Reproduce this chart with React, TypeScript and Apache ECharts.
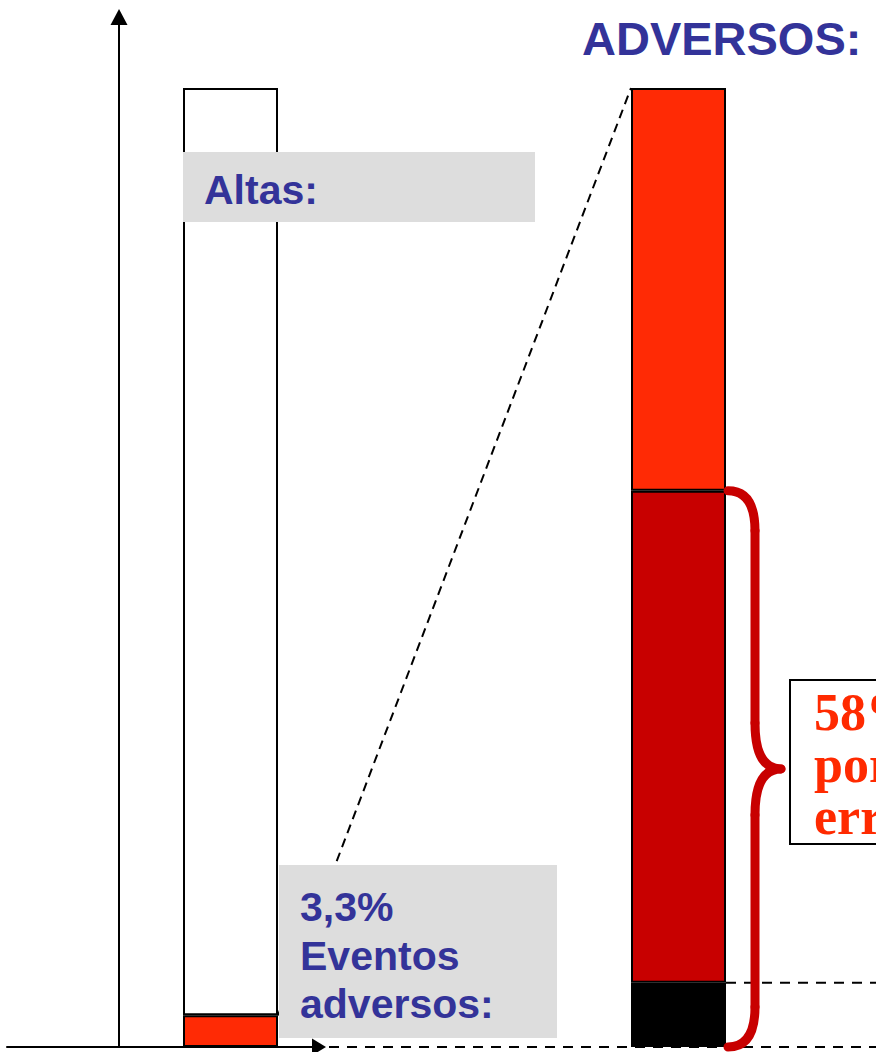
import React, { useEffect, useRef } from "react";
import * as echarts from "echarts";

// Left bar: hospital discharges ("Altas"), split by adverse events (%)
const altasCategories = ["Altas"];
const altasEventosAdversos = [3.3];
const altasSinEventos = [96.7];

// Right bar: breakdown of the adverse events (%)
const adversosCategories = ["Adversos"];
const adversosBase = [6.7];
const adversosPorErrores = [51.3];
const adversosResto = [42];

// Texts
const tituloAdversos = "ADVERSOS:";
const etiquetaAltas = "Altas:";
const etiquetaEventos = ["3,3%", "Eventos", "adversos:"];
const etiquetaErrores = ["58%", "por", "errores"];

// Layout
const WIDTH = 876;
const HEIGHT = 1052;
const AXIS_GRID = { left: 7, top: 17, width: 312, height: 1030 };
const LEFT_GRID = { left: 183, top: 88, width: 95, height: 959 };
const RIGHT_GRID = { left: 631, top: 88, width: 95, height: 959 };

const BLUE = "#333399";
const GRAY = "#DDDDDD";
const ORANGE_RED = "#FF2A05";
const DARK_RED = "#C80000";
const SANS = '"Liberation Sans", Arial, sans-serif';
const SERIF = '"Liberation Serif", "Times New Roman", serif';

const sum = (a: number[]) => a.reduce((s, v) => s + v, 0);

export default function App() {
  const ref = useRef<HTMLDivElement>(null);

  useEffect(() => {
    if (!ref.current) return;
    const chart = echarts.init(ref.current, null, { renderer: "svg" });

    const segment = { borderColor: "#000", borderWidth: 2 };
    const hiddenValue = (gridIndex: number) => ({
      gridIndex,
      type: "value" as const,
      min: 0,
      max: 100,
      show: false,
    });
    const bar = (name: string, axis: number, stack: string, data: number[], color: string) => ({
      type: "bar",
      name,
      xAxisIndex: axis,
      yAxisIndex: axis,
      stack,
      barWidth: "100%",
      data,
      itemStyle: { color, ...segment },
    });

    chart.setOption({
      animation: false,
      grid: [
        { ...AXIS_GRID, containLabel: false },
        { ...LEFT_GRID, containLabel: false },
        { ...RIGHT_GRID, containLabel: false },
      ],
      xAxis: [
        {
          gridIndex: 0,
          type: "value",
          min: -112,
          max: 200,
          axisLine: {
            show: true,
            onZero: true,
            symbol: ["none", "triangle"],
            symbolSize: [17, 14],
            lineStyle: { color: "#000", width: 2 },
          },
          axisTick: { show: false },
          axisLabel: { show: false },
          splitLine: { show: false },
        },
        { gridIndex: 1, type: "category", data: altasCategories, show: false },
        { gridIndex: 2, type: "category", data: adversosCategories, show: false },
      ],
      yAxis: [
        {
          gridIndex: 0,
          type: "value",
          min: 0,
          max: 100,
          axisLine: {
            show: true,
            onZero: true,
            symbol: ["none", "triangle"],
            symbolSize: [17, 16],
            lineStyle: { color: "#000", width: 2 },
          },
          axisTick: { show: false },
          axisLabel: { show: false },
          splitLine: { show: false },
        },
        hiddenValue(1),
        hiddenValue(2),
      ],
      series: [
        bar("Eventos adversos", 1, "altas", altasEventosAdversos, ORANGE_RED),
        bar("Sin eventos adversos", 1, "altas", altasSinEventos, "#FFFFFF"),
        bar("Base", 2, "adversos", adversosBase, "#000000"),
        bar("Por errores", 2, "adversos", adversosPorErrores, DARK_RED),
        bar("Resto", 2, "adversos", adversosResto, ORANGE_RED),
      ],
    });

    // Pixel positions derived from the bar scales
    const yLeft = (v: number) => chart.convertToPixel({ yAxisIndex: 1 }, v) as number;
    const yRight = (v: number) => chart.convertToPixel({ yAxisIndex: 2 }, v) as number;

    const leftBarRight = LEFT_GRID.left + LEFT_GRID.width;
    const rightBarLeft = RIGHT_GRID.left;
    const rightBarRight = RIGHT_GRID.left + RIGHT_GRID.width;

    const yEventosTop = yLeft(sum(altasEventosAdversos));
    const yRightTop = yRight(sum(adversosBase) + sum(adversosPorErrores) + sum(adversosResto));
    const yBaseTop = yRight(sum(adversosBase));
    const yErroresTop = yRight(sum(adversosBase) + sum(adversosPorErrores));
    const yZero = yRight(0);
    const xAxisTip = AXIS_GRID.left + AXIS_GRID.width + 7;

    // Curly brace spanning the error share
    const bx0 = rightBarRight + 2;
    const bxm = bx0 + 27;
    const bxt = bx0 + 53;
    const yMid = (yErroresTop + yZero) / 2;
    const rEnd = 40;
    const rMid = 46;
    const braceStyle = { stroke: DARK_RED, lineWidth: 9, fill: "none", lineCap: "round" };
    const brace = [
      { type: "bezierCurve", shape: { x1: bx0, y1: yErroresTop, cpx1: bxm, cpy1: yErroresTop, x2: bxm, y2: yErroresTop + rEnd } },
      { type: "line", shape: { x1: bxm, y1: yErroresTop + rEnd, x2: bxm, y2: yMid - rMid } },
      { type: "bezierCurve", shape: { x1: bxm, y1: yMid - rMid, cpx1: bxm, cpy1: yMid, x2: bxt, y2: yMid } },
      { type: "bezierCurve", shape: { x1: bxt, y1: yMid, cpx1: bxm, cpy1: yMid, x2: bxm, y2: yMid + rMid } },
      { type: "line", shape: { x1: bxm, y1: yMid + rMid, x2: bxm, y2: yZero - rEnd } },
      { type: "bezierCurve", shape: { x1: bxm, y1: yZero - rEnd, cpx1: bxm, cpy1: yZero, x2: bx0, y2: yZero } },
    ].map((el) => ({ ...el, z: 70, style: braceStyle }));

    const dashed = { stroke: "#000", lineWidth: 2 };

    // Text block: top-aligned, one line box per row
    const textBlock = (
      lines: string[],
      x: number,
      top: number,
      size: number,
      lineHeight: number,
      color: string,
      family: string
    ) => ({
      type: "text",
      z: 80,
      x,
      y: top,
      style: {
        text: lines.join("\n"),
        fill: color,
        fontSize: size,
        fontWeight: "bold",
        fontFamily: family,
        lineHeight,
        align: "left",
        verticalAlign: "top",
      },
    });

    chart.setOption({
      graphic: [
        // Guides
        {
          type: "line",
          z: 50,
          shape: { x1: xAxisTip + 3, y1: yZero, x2: WIDTH, y2: yZero },
          style: { ...dashed, lineDash: [10, 8] },
        },
        {
          type: "line",
          z: 50,
          shape: { x1: leftBarRight, y1: yEventosTop, x2: rightBarLeft, y2: yRightTop },
          style: { ...dashed, lineDash: [9, 6] },
        },
        {
          type: "line",
          z: 50,
          shape: { x1: rightBarRight, y1: yBaseTop, x2: WIDTH, y2: yBaseTop },
          style: { ...dashed, lineDash: [10, 8] },
        },
        // Title
        textBlock([tituloAdversos], 582, 14, 47, 48, BLUE, SANS),
        // "Altas" callout
        { type: "rect", z: 60, shape: { x: 183, y: 152, width: 352, height: 70 }, style: { fill: GRAY } },
        textBlock([etiquetaAltas], 204, 166, 41, 48, BLUE, SANS),
        // Adverse events callout
        { type: "rect", z: 60, shape: { x: 279, y: 865, width: 278, height: 173 }, style: { fill: GRAY } },
        textBlock(etiquetaEventos, 300, 883, 41, 48.5, BLUE, SANS),
        // Brace and its label
        ...brace,
        {
          type: "rect",
          z: 60,
          shape: { x: 790, y: 680, width: 140, height: 164 },
          style: { fill: "#FFFFFF", stroke: "#000", lineWidth: 2 },
        },
        textBlock(etiquetaErrores, 814, 686, 52, 52, "#FF2A00", SERIF),
      ],
    });

    return () => chart.dispose();
  }, []);

  return (
    <div
      ref={ref}
      style={{ position: "fixed", left: 0, top: 0, width: WIDTH, height: HEIGHT, background: "#FFFFFF" }}
    />
  );
}
